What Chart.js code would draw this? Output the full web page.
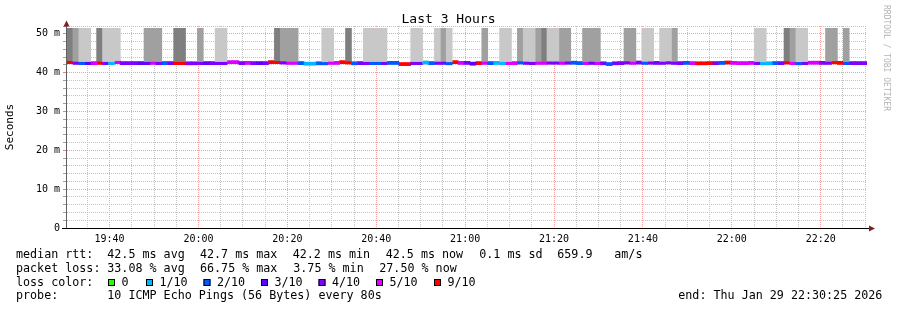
<!DOCTYPE html>
<html>
<head>
<meta charset="utf-8">
<script src="https://cdn.jsdelivr.net/npm/chart.js@4.4.1/dist/chart.umd.min.js"></script>
<style>
    html, body { margin: 0; padding: 0; background: #fff; }
</style>
</head>
<body>
<canvas id="graficoPing" width="897" height="310"></canvas>
<script>
// tempo em minutos depois das 19:00 (janela de 3 horas, amostra a cada 80s)
const inicioMin = 30 + 25 / 60
const fimMin = inicioMin + 180
const passoMin = 80 / 60

// rótulos do eixo x
const tickLabels = ['19:40', '20:00', '20:20', '20:40', '21:00', '21:20', '21:40', '22:00', '22:20']
const tickValores = [40, 60, 80, 100, 120, 140, 160, 180, 200]

// mediana do rtt (ms) por amostra
const mediana = [
    42.7, 42.5, 42.45, 42.45, 42.45, 42.5, 42.45, 42.45, 42.7, 42.45, 42.45, 42.45, 42.45, 42.45, 42.5,
    42.45, 42.45, 42.45, 42.45, 42.45, 42.4, 42.4, 42.45, 42.45, 42.45, 42.45, 42.45, 42.7, 42.7, 42.45,
    42.5, 42.45, 42.45, 42.45, 42.7, 42.7, 42.6, 42.5, 42.5, 42.45, 42.3, 42.3, 42.4, 42.4, 42.5,
    42.5, 42.7, 42.6, 42.4, 42.45, 42.45, 42.45, 42.45, 42.45, 42.5, 42.5, 42.2, 42.2, 42.45, 42.45,
    42.6, 42.45, 42.5, 42.5, 42.4, 42.7, 42.5, 42.5, 42.3, 42.45, 42.5, 42.45, 42.5, 42.45, 42.45,
    42.45, 42.6, 42.5, 42.45, 42.5, 42.5, 42.55, 42.55, 42.5, 42.55, 42.55, 42.45, 42.45, 42.5, 42.45,
    42.4, 42.2, 42.4, 42.45, 42.6, 42.5, 42.6, 42.5, 42.55, 42.5, 42.5, 42.6, 42.5, 42.45, 42.5,
    42.45, 42.4, 42.4, 42.45, 42.45, 42.5, 42.6, 42.5, 42.45, 42.45, 42.5, 42.45, 42.4, 42.4, 42.45,
    42.45, 42.6, 42.45, 42.4, 42.45, 42.55, 42.55, 42.5, 42.5, 42.65, 42.5, 42.45, 42.45, 42.45, 42.45
]

// nível de perda por amostra (índice em legendaPerda)
const perda = [
    6, 4, 2, 3, 5, 6, 4, 1, 5, 4, 4, 4, 3, 3, 5,
    4, 2, 4, 6, 6, 4, 4, 4, 3, 4, 4, 4, 5, 5, 4,
    5, 4, 3, 4, 6, 6, 4, 5, 5, 2, 1, 1, 2, 2, 5,
    5, 6, 6, 2, 4, 4, 2, 2, 4, 2, 2, 6, 6, 4, 4,
    1, 2, 4, 4, 2, 6, 5, 4, 3, 6, 5, 2, 1, 1, 5,
    5, 2, 4, 4, 5, 5, 4, 4, 5, 4, 2, 2, 5, 4, 5,
    4, 2, 4, 4, 4, 5, 4, 2, 4, 4, 4, 4, 4, 4, 2,
    5, 6, 6, 6, 4, 2, 6, 5, 5, 5, 5, 4, 1, 1, 2,
    4, 6, 5, 2, 4, 5, 5, 4, 4, 6, 6, 2, 4, 4, 4
]

// fumaça (0 nenhuma, 1 clara, 2 média, 3 escura)
const fumaca = [
    3, 2, 1, 1, 0, 3, 1, 1, 1, 0, 0, 0, 0, 2, 2,
    2, 0, 0, 3, 3, 0, 0, 2, 0, 0, 1, 1, 0, 0, 0,
    0, 0, 0, 0, 0, 3, 2, 2, 2, 0, 0, 0, 0, 1, 1,
    0, 0, 3, 0, 0, 1, 1, 1, 1, 0, 0, 0, 0, 1, 1,
    0, 0, 1, 2, 1, 0, 0, 0, 0, 0, 2, 0, 0, 1, 1,
    0, 2, 1, 1, 2, 3, 1, 1, 2, 2, 0, 0, 2, 2, 2,
    0, 0, 0, 0, 2, 2, 0, 1, 1, 0, 1, 1, 2, 0, 0,
    0, 0, 0, 0, 0, 0, 0, 0, 0, 0, 0, 1, 1, 0, 0,
    0, 3, 2, 1, 1, 0, 0, 0, 2, 2, 0, 2, 0, 0, 0
]
const topoFumaca = 51.4

const legendaPerda = ['0', '1/10', '2/10', '3/10', '4/10', '5/10', '9/10']
const coresPerda = ['#26ff00', '#00b8ff', '#0059ff', '#5e00ff', '#7e00ff', '#dd00ff', '#ff0000']
const coresFumaca = ['#c8c8c8', '#a0a0a0', '#7f7f7f']

const amostras = mediana.map(function (v, i) { return inicioMin + passoMin * (i + 0.5) })

let datasets = []

for (let n = 0; n < coresFumaca.length; n++) {
    let dados = []
    for (let i = 0; i < fumaca.length; i++) {
        if (fumaca[i] == n + 1) dados.push({ x: amostras[i], y: [mediana[i] + 0.4, topoFumaca] })
    }
    datasets.push({ label: 'fumaca ' + (n + 1), data: dados, backgroundColor: coresFumaca[n] })
}

for (let n = 0; n < legendaPerda.length; n++) {
    let dados = []
    for (let i = 0; i < perda.length; i++) {
        if (perda[i] == n) dados.push({ x: amostras[i], y: [mediana[i] - 0.4, mediana[i] + 0.4] })
    }
    datasets.push({ label: legendaPerda[n], data: dados, backgroundColor: coresPerda[n] })
}

const corGrade = '#c4c4c4'
const corGradeMaior = '#f4a0a0'
const fonteMono = '"DejaVu Sans Mono", monospace'

const linhasLegenda = [
    { y: 255, partes: [[16, 'median rtt:'], [107.3, '42.5 ms avg'], [200, '42.7 ms max'], [292.7, '42.2 ms min'], [385.7, '42.5 ms now'], [479.3, '0.1 ms sd'], [557.3, '659.9'], [614.3, 'am/s']] },
    { y: 268.5, partes: [[16, 'packet loss:'], [107.3, '33.08 % avg'], [200, '66.75 % max'], [293.3, '3.75 % min'], [379.3, '27.50 % now']] },
    { y: 282.5, partes: [[16, 'loss color:']] },
    { y: 296, partes: [[16, 'probe:'], [107.3, '10 ICMP Echo Pings (56 Bytes) every 80s'], [678.3, 'end: Thu Jan 29 22:30:25 2026']] }
]
const caixasX = [108, 146, 203.5, 261, 318.5, 376, 434]

const decoracao = {
    id: 'decoracao',
    afterDraw(chart) {
        const ctx = chart.ctx
        const area = chart.chartArea
        ctx.save()

        // eixos
        ctx.lineWidth = 1
        ctx.strokeStyle = '#606060'
        ctx.beginPath()
        ctx.moveTo(area.left - 0.5, area.bottom)
        ctx.lineTo(area.left - 0.5, 23)
        ctx.stroke()
        ctx.strokeStyle = '#000'
        ctx.beginPath()
        ctx.moveTo(62, area.bottom + 0.5)
        ctx.lineTo(870, area.bottom + 0.5)
        ctx.stroke()

        ctx.fillStyle = '#802020'
        ctx.beginPath()
        ctx.moveTo(63.5, 26.5); ctx.lineTo(69.5, 26.5); ctx.lineTo(66.5, 20.5)
        ctx.closePath(); ctx.fill()
        ctx.beginPath()
        ctx.moveTo(869, 225.5); ctx.lineTo(869, 231.5); ctx.lineTo(875, 228.5)
        ctx.closePath(); ctx.fill()

        // título
        ctx.fillStyle = '#000'
        ctx.textBaseline = 'middle'
        ctx.textAlign = 'center'
        ctx.font = '13px ' + fonteMono
        ctx.fillText('Last 3 Hours', 448.5, 20)

        // rótulo do eixo y
        ctx.save()
        ctx.translate(10, 127)
        ctx.rotate(-Math.PI / 2)
        ctx.font = '11px ' + fonteMono
        ctx.fillText('Seconds', 0, 0)
        ctx.restore()

        // marca d'água
        ctx.save()
        ctx.translate(886, 5)
        ctx.rotate(Math.PI / 2)
        ctx.textAlign = 'left'
        ctx.font = '8px ' + fonteMono
        ctx.fillStyle = '#b4b4b4'
        ctx.fillText('RRDTOOL / TOBI OETIKER', 0, 0)
        ctx.restore()

        // legenda
        ctx.textAlign = 'left'
        ctx.font = '11.7px ' + fonteMono
        ctx.fillStyle = '#000'
        linhasLegenda.forEach(function (linha) {
            linha.partes.forEach(function (p) { ctx.fillText(p[1], p[0], linha.y) })
        })
        for (let n = 0; n < legendaPerda.length; n++) {
            const bx = caixasX[n]
            ctx.fillStyle = coresPerda[n]
            ctx.fillRect(bx, 279, 7, 7)
            ctx.strokeStyle = '#000'
            ctx.strokeRect(bx + 0.5, 279.5, 6, 6)
            ctx.fillStyle = '#000'
            ctx.fillText(legendaPerda[n], bx + 13.5, 282.5)
        }
        ctx.restore()
    }
}

const graficoPing = document.getElementById('graficoPing')

new Chart(graficoPing, {
    type: 'bar',
    data: { datasets: datasets },
    options: {
        responsive: false,
        animation: false,
        devicePixelRatio: 1,
        layout: { padding: { left: 0, right: 30, top: 26, bottom: 0 } },
        datasets: {
            bar: {
                grouped: false,
                barPercentage: 1,
                categoryPercentage: 1,
                borderWidth: 0
            }
        },
        plugins: {
            legend: { display: false },
            tooltip: { enabled: false }
        },
        scales: {
            x: {
                type: 'linear',
                min: inicioMin,
                max: fimMin,
                offset: false,
                z: 1,
                afterBuildTicks: function (s) {
                    let t = []
                    for (let v = 35; v <= 210; v += 5) t.push({ value: v })
                    s.ticks = t
                },
                afterFit: function (s) { s.height = 82 },
                border: { display: false, dash: [1, 1] },
                grid: {
                    offset: false,
                    drawTicks: false,
                    color: function (c) {
                        return c.tick && tickValores.indexOf(c.tick.value) >= 0 ? corGradeMaior : corGrade
                    }
                },
                ticks: {
                    autoSkip: false,
                    maxRotation: 0,
                    padding: 5,
                    color: '#000',
                    font: { family: 'DejaVu Sans Mono', size: 10 },
                    callback: function (v) {
                        const k = tickValores.indexOf(v)
                        return k >= 0 ? tickLabels[k] : ''
                    }
                }
            },
            y: {
                min: 0,
                max: 52,
                z: 1,
                afterFit: function (s) { s.width = 67 },
                border: { display: false, dash: [1, 1] },
                grid: {
                    drawTicks: true,
                    tickLength: 4,
                    color: function (c) {
                        return c.tick && c.tick.value % 10 == 0 ? corGradeMaior : corGrade
                    },
                    tickColor: function (c) {
                        return c.tick && c.tick.value % 10 == 0 ? '#e08080' : '#a0a0a0'
                    }
                },
                ticks: {
                    stepSize: 2,
                    padding: 3,
                    autoSkip: false,
                    color: '#000',
                    font: { family: 'DejaVu Sans Mono', size: 10 },
                    callback: function (v) {
                        if (v % 10 != 0) return ''
                        return v == 0 ? '0' : v + ' m'
                    }
                }
            }
        }
    },
    plugins: [decoracao]
})
</script>
</body>
</html>
